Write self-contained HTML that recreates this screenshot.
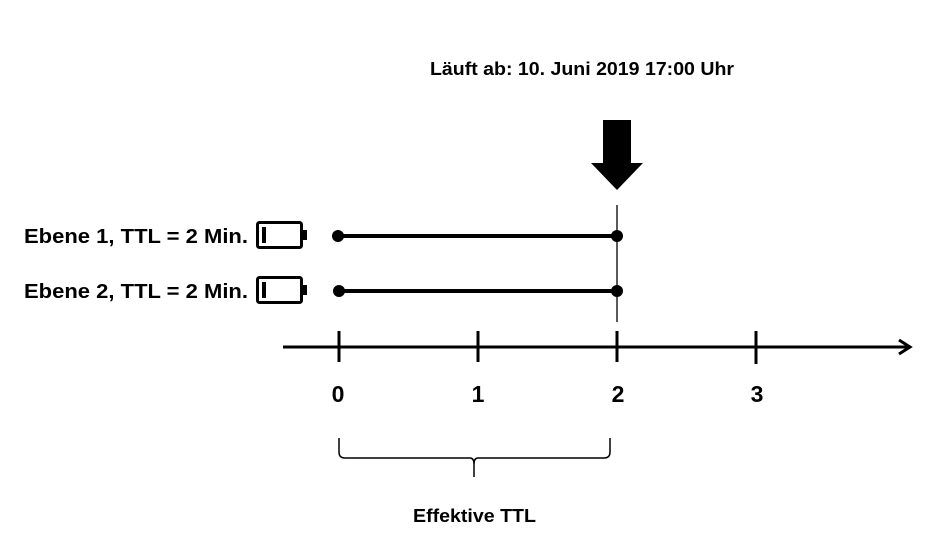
<!DOCTYPE html>
<html><head><style>
html,body{margin:0;padding:0;background:#fff;}
svg text{font-family:"Liberation Sans",sans-serif;fill:#000;}
</style></head><body>
<svg width="943" height="537" viewBox="0 0 943 537" xmlns="http://www.w3.org/2000/svg">
<text x="430" y="75" font-size="18" font-weight="bold" textLength="304" lengthAdjust="spacingAndGlyphs">Läuft ab: 10. Juni 2019 17:00 Uhr</text>
<polygon points="603,120 631,120 631,163 643,163 617,190 591,163 603,163" fill="#000"/>
<line x1="617" y1="205" x2="617" y2="322" stroke="#000" stroke-width="1.3"/>
<text x="24" y="243" font-size="20" font-weight="bold" textLength="224" lengthAdjust="spacingAndGlyphs">Ebene 1, TTL = 2 Min.</text>
<text x="24" y="298" font-size="20" font-weight="bold" textLength="224" lengthAdjust="spacingAndGlyphs">Ebene 2, TTL = 2 Min.</text>
<g stroke="#000" fill="none">
<rect x="257.5" y="222.5" width="44" height="25" rx="2" stroke-width="3"/>
<rect x="257.5" y="277.5" width="44" height="25" rx="2" stroke-width="3"/>
</g>
<rect x="302" y="230" width="5" height="10" fill="#000"/>
<rect x="302" y="285" width="5" height="10" fill="#000"/>
<rect x="262" y="227" width="4" height="16" fill="#000"/>
<rect x="262" y="282" width="4" height="16" fill="#000"/>
<line x1="338" y1="236" x2="617" y2="236" stroke="#000" stroke-width="4"/>
<line x1="339" y1="291" x2="617" y2="291" stroke="#000" stroke-width="4"/>
<circle cx="338" cy="236" r="6"/><circle cx="617" cy="236" r="6"/>
<circle cx="339" cy="291" r="6"/><circle cx="617" cy="291" r="6"/>
<line x1="283" y1="347" x2="910" y2="347" stroke="#000" stroke-width="3"/>
<polyline points="899,340 910,347 899,354" fill="none" stroke="#000" stroke-width="3"/>
<g stroke="#000" stroke-width="3">
<line x1="339" y1="331" x2="339" y2="362"/>
<line x1="478" y1="331" x2="478" y2="362"/>
<line x1="617" y1="331" x2="617" y2="362"/>
<line x1="756" y1="331" x2="756" y2="364"/>
</g>
<g font-size="23" font-weight="bold" text-anchor="middle">
<text x="338" y="402">0</text><text x="478" y="402">1</text><text x="618" y="402">2</text><text x="757" y="402">3</text>
</g>
<path d="M339,438 L339,452 Q339,458 345,458 L470,458 Q474,458 474,464 L474,477 M474,464 Q474,458 478,458 L604,458 Q610,458 610,452 L610,438" fill="none" stroke="#000" stroke-width="1.5"/>
<text x="413" y="522" font-size="18" font-weight="bold" textLength="123" lengthAdjust="spacingAndGlyphs">Effektive TTL</text>
</svg>
</body></html>
